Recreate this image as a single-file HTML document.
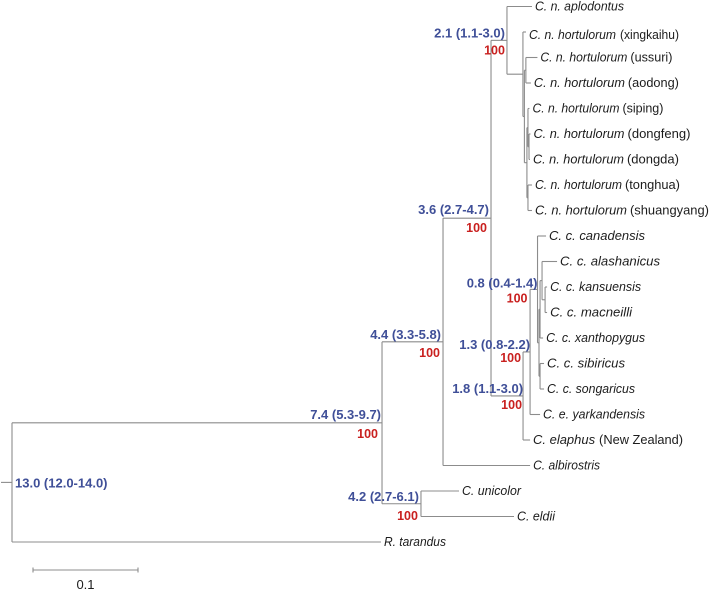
<!DOCTYPE html>
<html lang="en">
<head>
<meta charset="utf-8">
<title>Phylogenetic tree of Cervus</title>
<style>
  html, body { margin: 0; padding: 0; background: #fff; }
  svg { display: block; width: 709px; height: 590px; font-family: "Liberation Sans", Arial, sans-serif; }
  .branch { stroke: #8c8c8c; stroke-width: 1.1; fill: none; shape-rendering: auto; }
  .tip { font-size: 12.5px; fill: #1c1c1c; white-space: pre; }
  .tip .sp { font-style: italic; }
  .scale-text { font-size: 13px; fill: #1c1c1c; }
  .age { font-size: 13px; font-weight: bold; fill: #3f4f98; }
  .support { font-size: 12.5px; font-weight: bold; fill: #c9201f; }
</style>
</head>
<body>
<svg id="chart" xmlns="http://www.w3.org/2000/svg" width="709" height="590" viewBox="0 0 709 590"></svg>
<script>
const nodeIds = ["root","n74","n44","n36","n21","aplodontus","hort","xingkaihu","hs","hu","ussuri","aodong","hl","hp","siping","hr","dongfeng","dongda","hq","tonghua","shuangyang","n18","n13","n08","canadensis","cs","cu","ca","alashanicus","cb","kansuensis","macneilli","xanthopygus","cl","sibiricus","songaricus","yarkandensis","newzealand","albirostris","n42","unicolor","eldii","tarandus"];
const nodeParents = [null,"root","n74","n44","n36","n21","n21","hort","hort","hs","hu","hu","hs","hl","hp","hp","hr","hr","hl","hq","hq","n36","n18","n13","n08","n08","cs","cu","ca","ca","cb","cb","cu","cs","cl","cl","n13","n18","n44","n74","n42","n42","root"];
const branchLengths = [0,0.3524,0.0581,0.0457,0.0152,0.0238,0.0152,0.0029,0.0014,0.0014,0.011,0.0048,0.0024,0.001,0.0014,0.001,0.0014,0.0009,0.001,0.0038,0.0038,0.0305,0.0067,0.0071,0.0081,0.0014,0.001,0.0019,0.0143,0.0029,0.0019,0.0019,0.0029,0.001,0.0038,0.0038,0.0095,0.0067,0.0829,0.0371,0.0362,0.0886,0.3514];
const tipSpecies = {aplodontus:"C. n. aplodontus",xingkaihu:"C. n. hortulorum",ussuri:"C. n. hortulorum",aodong:"C. n. hortulorum",siping:"C. n. hortulorum",dongfeng:"C. n. hortulorum",dongda:"C. n. hortulorum",tonghua:"C. n. hortulorum",shuangyang:"C. n. hortulorum",canadensis:"C. c. canadensis",alashanicus:"C. c. alashanicus",kansuensis:"C. c. kansuensis",macneilli:"C. c. macneilli",xanthopygus:"C. c. xanthopygus",sibiricus:"C. c. sibiricus",songaricus:"C. c. songaricus",yarkandensis:"C. e. yarkandensis",newzealand:"C. elaphus",albirostris:"C. albirostris",unicolor:"C. unicolor",eldii:"C. eldii",tarandus:"R. tarandus"};
const tipPopulations = {xingkaihu:"(xingkaihu)",ussuri:"(ussuri)",aodong:"(aodong)",siping:"(siping)",dongfeng:"(dongfeng)",dongda:"(dongda)",tonghua:"(tonghua)",shuangyang:"(shuangyang)",newzealand:"(New Zealand)"};
const divergenceAges = {root:"13.0 (12.0-14.0)",n74:"7.4 (5.3-9.7)",n44:"4.4 (3.3-5.8)",n36:"3.6 (2.7-4.7)",n21:"2.1 (1.1-3.0)",n18:"1.8 (1.1-3.0)",n13:"1.3 (0.8-2.2)",n08:"0.8 (0.4-1.4)",n42:"4.2 (2.7-6.1)"};
const supportValues = {n74:"100",n44:"100",n36:"100",n21:"100",n18:"100",n13:"100",n08:"100",n42:"100"};
const scaleBarValue = 0.1;

const SVGNS = "http://www.w3.org/2000/svg";
const chart = document.getElementById("chart");
const rootX = 12, pxPerUnit = 1050, firstTipY = 6.5, tipSpacing = 25.5;
const xScale = function (d) { return rootX + d * pxPerUnit; };
const yScale = function (i) { return firstTipY + i * tipSpacing; };

const children = {}, length = {};
nodeIds.forEach(function (id, i) {
  children[id] = [];
  length[id] = branchLengths[i];
});
nodeIds.forEach(function (id, i) {
  if (nodeParents[i]) children[nodeParents[i]].push(id);
});

const pos = {};
let tipCounter = 0;
function layout(id, depth) {
  const d = depth + length[id];
  const kids = children[id];
  kids.forEach(function (k) { layout(k, d); });
  let y;
  if (kids.length) {
    y = (pos[kids[0]].y + pos[kids[kids.length - 1]].y) / 2;
  } else {
    y = yScale(tipCounter);
    tipCounter++;
  }
  pos[id] = { x: xScale(d), y: y };
}
layout("root", 0);

function drawLine(x1, y1, x2, y2, name) {
  const l = document.createElementNS(SVGNS, "line");
  l.setAttribute("x1", x1);
  l.setAttribute("y1", y1);
  l.setAttribute("x2", x2);
  l.setAttribute("y2", y2);
  l.setAttribute("class", "branch");
  
  
  chart.appendChild(l);
}

nodeIds.forEach(function (id, i) {
  const p = pos[id];
  const parent = nodeParents[i];
  if (parent) drawLine(pos[parent].x, p.y, p.x, p.y, "branch-" + id);
  const kids = children[id];
  if (kids.length) drawLine(p.x, pos[kids[0]].y, p.x, pos[kids[kids.length - 1]].y, "clade-connector-" + id);
});
drawLine(1, pos.root.y, rootX, pos.root.y, "root-stem");

/* rendered typography of the original figure: per-label fitted text widths */
function speciesFit(id) {
  if (id === "aplodontus") return 89;
  if (id === "xingkaihu" || id === "ussuri" || id === "siping" || id === "tonghua") return 87;
  if (id === "aodong" || id === "dongfeng" || id === "dongda") return 91;
  if (id === "shuangyang") return 92;
  if (id === "canadensis") return 96;
  if (id === "alashanicus") return 100;
  if (id === "kansuensis") return 91;
  if (id === "macneilli") return 82;
  if (id === "xanthopygus") return 99;
  if (id === "sibiricus") return 78;
  if (id === "songaricus") return 88;
  if (id === "yarkandensis") return 102;
  if (id === "newzealand") return 62;
  if (id === "albirostris") return 67;
  if (id === "unicolor") return 59;
  if (id === "eldii") return 38;
  return 62;
}
function populationFit(id) {
  if (id === "xingkaihu") return 59;
  if (id === "ussuri") return 42;
  if (id === "aodong") return 51;
  if (id === "siping") return 41;
  if (id === "dongfeng") return 63;
  if (id === "dongda") return 52;
  if (id === "tonghua") return 55;
  if (id === "shuangyang") return 79;
  return 84;
}

Object.keys(tipSpecies).forEach(function (id) {
  const t = document.createElementNS(SVGNS, "text");
  t.setAttribute("x", pos[id].x + 3);
  t.setAttribute("y", pos[id].y + 4 + (id === "xingkaihu" ? 3 : 0));
  t.setAttribute("class", "tip");
  
  
  const sp = document.createElementNS(SVGNS, "tspan");
  sp.setAttribute("class", "sp");
  sp.setAttribute("textLength", speciesFit(id));
  sp.setAttribute("lengthAdjust", "spacingAndGlyphs");
  sp.textContent = tipSpecies[id];
  t.appendChild(sp);
  if (tipPopulations[id]) {
    const pop = document.createElementNS(SVGNS, "tspan");
    pop.setAttribute("dx", (id === "xingkaihu" || id === "newzealand") ? "4" : "3");
    pop.setAttribute("textLength", populationFit(id));
    pop.setAttribute("lengthAdjust", "spacingAndGlyphs");
    pop.textContent = tipPopulations[id];
    t.appendChild(pop);
  }
  chart.appendChild(t);
});

function placeAge(id, dx, dy, anchor) {
  const t = document.createElementNS(SVGNS, "text");
  t.setAttribute("x", pos[id].x + dx);
  t.setAttribute("y", pos[id].y + dy);
  t.setAttribute("text-anchor", anchor);
  t.setAttribute("class", "age");
  
  
  t.textContent = divergenceAges[id];
  chart.appendChild(t);
}
function placeSupport(id, dx, dy) {
  const t = document.createElementNS(SVGNS, "text");
  t.setAttribute("x", pos[id].x + dx);
  t.setAttribute("y", pos[id].y + dy);
  t.setAttribute("text-anchor", "end");
  t.setAttribute("class", "support");
  
  
  t.textContent = supportValues[id];
  chart.appendChild(t);
}

placeAge("root", 3, 5, "start");
placeAge("n74", -1, -4, "end");
placeAge("n44", -2, -3, "end");
placeAge("n36", -2, -4, "end");
placeAge("n21", -2, -3, "end");
placeAge("n18", 0, -3, "end");
placeAge("n13", 0, -3, "end");
placeAge("n08", 0, -2, "end");
placeAge("n42", -2, -3, "end");

placeSupport("n74", -4, 15);
placeSupport("n44", -3, 15);
placeSupport("n36", -4, 14);
placeSupport("n21", -2, 14);
placeSupport("n18", -1, 13);
placeSupport("n13", -9, 10);
placeSupport("n08", -10, 13);
placeSupport("n42", -3, 16);

const scaleLeft = 33, scaleY = 570;
const scaleRight = scaleLeft + scaleBarValue * pxPerUnit;
drawLine(scaleLeft, scaleY, scaleRight, scaleY, "scale-bar");
drawLine(scaleLeft, scaleY - 2.5, scaleLeft, scaleY + 2.5, "scale-bar-left-tick");
drawLine(scaleRight, scaleY - 2.5, scaleRight, scaleY + 2.5, "scale-bar-right-tick");
const scaleLabel = document.createElementNS(SVGNS, "text");
scaleLabel.setAttribute("x", (scaleLeft + scaleRight) / 2);
scaleLabel.setAttribute("y", 589);
scaleLabel.setAttribute("text-anchor", "middle");
scaleLabel.setAttribute("class", "scale-text");


scaleLabel.textContent = String(scaleBarValue);
chart.appendChild(scaleLabel);
</script>
</body>
</html>
